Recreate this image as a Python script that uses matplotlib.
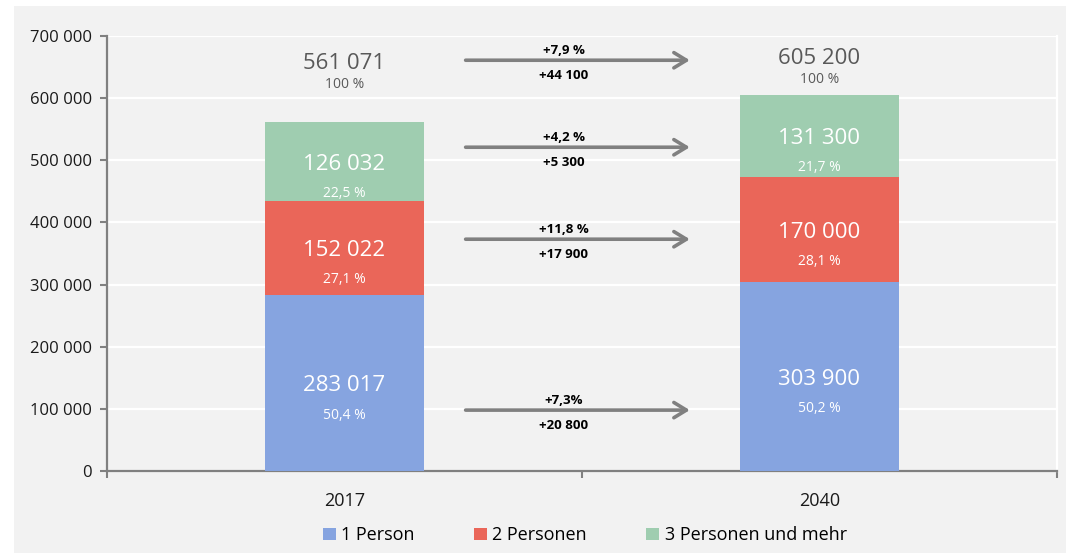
import matplotlib
matplotlib.use("Agg")
import matplotlib.pyplot as plt
from matplotlib.patches import Rectangle
from matplotlib.ticker import FuncFormatter

plt.rcParams["font.family"] = ["Open Sans", "DejaVu Sans"]

# Data
years = ["2017", "2040"]
series = ["1 Person", "2 Personen", "3 Personen und mehr"]
one_person = [283017, 303900]
two_persons = [152022, 170000]
three_plus = [126032, 131300]
shares_one = ["50,4 %", "50,2 %"]
shares_two = ["27,1 %", "28,1 %"]
shares_three = ["22,5 %", "21,7 %"]
totals = [561071, 605200]
change_pct = ["+7,3%", "+11,8 %", "+4,2 %", "+7,9 %"]
change_abs = ["+20 800", "+17 900", "+5 300", "+44 100"]

colors = ["#86a4e0", "#ea6659", "#9fcdb0"]
bg = "#f2f2f2"


def fmt_num(v):
    return f"{v:,.0f}".replace(",", " ")


fig = plt.figure(figsize=(10.66, 5.53), dpi=100, facecolor="white")
fig.patches.append(Rectangle((14 / 1066, 0), 1, 547 / 553, transform=fig.transFigure,
                             facecolor=bg, edgecolor="none", zorder=-10))
ax = fig.add_axes([107 / 1066, 1 - 471 / 553, 950 / 1066, 435 / 553])
ax.set_facecolor(bg)

x = [0, 1]
width = 0.333
bottom = [0, 0]
segments = [(one_person, shares_one), (two_persons, shares_two), (three_plus, shares_three)]
for (vals, shares), color, name in zip(segments, colors, series):
    ax.bar(x, vals, width, bottom=bottom, color=color, label=name, zorder=3)
    for i in range(2):
        yc = bottom[i] + vals[i] / 2
        ax.annotate(fmt_num(vals[i]), (x[i], yc), xytext=(0, -2), textcoords="offset points",
                    ha="center", va="center", color="white", fontsize=16, zorder=4)
        ax.annotate(shares[i], (x[i], yc), xytext=(0, -23), textcoords="offset points",
                    ha="center", va="center", color="white", fontsize=10, zorder=4)
    bottom = [b + v for b, v in zip(bottom, vals)]

# totals above bars
total_y = [655000, 663000]
for i in range(2):
    ax.text(x[i], total_y[i], fmt_num(totals[i]), ha="center", va="center",
            color="#595959", fontsize=16)
    ax.annotate("100 %", (x[i], total_y[i]), xytext=(0, -15), textcoords="offset points",
                ha="center", va="center", color="#595959", fontsize=10)

# change arrows
arrow_y = [98000, 373000, 521000, 661000]
for yv, pct, ab in zip(arrow_y, change_pct, change_abs):
    ax.annotate("", xy=(0.727, yv), xytext=(0.255, yv),
                arrowprops=dict(arrowstyle="->,head_length=0.9,head_width=0.55",
                                color="#808080", lw=2.6, shrinkA=0, shrinkB=0), zorder=5)
    ax.annotate(pct, (0.462, yv), xytext=(0, 7), textcoords="offset points",
                ha="center", va="center", fontsize=9.5, fontweight="bold", color="black")
    ax.annotate(ab, (0.462, yv), xytext=(0, -11), textcoords="offset points",
                ha="center", va="center", fontsize=9.5, fontweight="bold", color="black")

ax.set_xlim(-0.5, 1.5)
ax.set_ylim(0, 700000)
ax.set_yticks(range(0, 700001, 100000))
ax.yaxis.set_major_formatter(FuncFormatter(lambda v, p: fmt_num(v)))
ax.set_xticks(x)
ax.set_xticklabels(years)
ax.set_xticks([-0.5, 0.5, 1.5], minor=True)
ax.tick_params(axis="x", which="major", length=0, pad=15, labelsize=13, colors="#1a1a1a")
ax.tick_params(axis="x", which="minor", length=5, width=1.5, color="#808080")
ax.tick_params(axis="y", length=5, width=1.5, color="#808080", pad=6,
               labelsize=12, labelcolor="#1a1a1a")

ax.grid(axis="y", color="white", lw=1.6, zorder=1)
for s in ["left", "bottom"]:
    ax.spines[s].set_color("#808080")
    ax.spines[s].set_linewidth(1.6)
ax.spines["top"].set_visible(False)
ax.spines["right"].set_color("white")
ax.spines["right"].set_linewidth(1.6)
ax.set_axisbelow(True)

ax.legend(loc="center", bbox_to_anchor=(0.503, -0.148), ncol=3, frameon=False,
          fontsize=13, handlelength=0.7, handleheight=0.7, handletextpad=0.3,
          columnspacing=3.3)

fig.savefig("out.png", dpi=100, facecolor="white")
